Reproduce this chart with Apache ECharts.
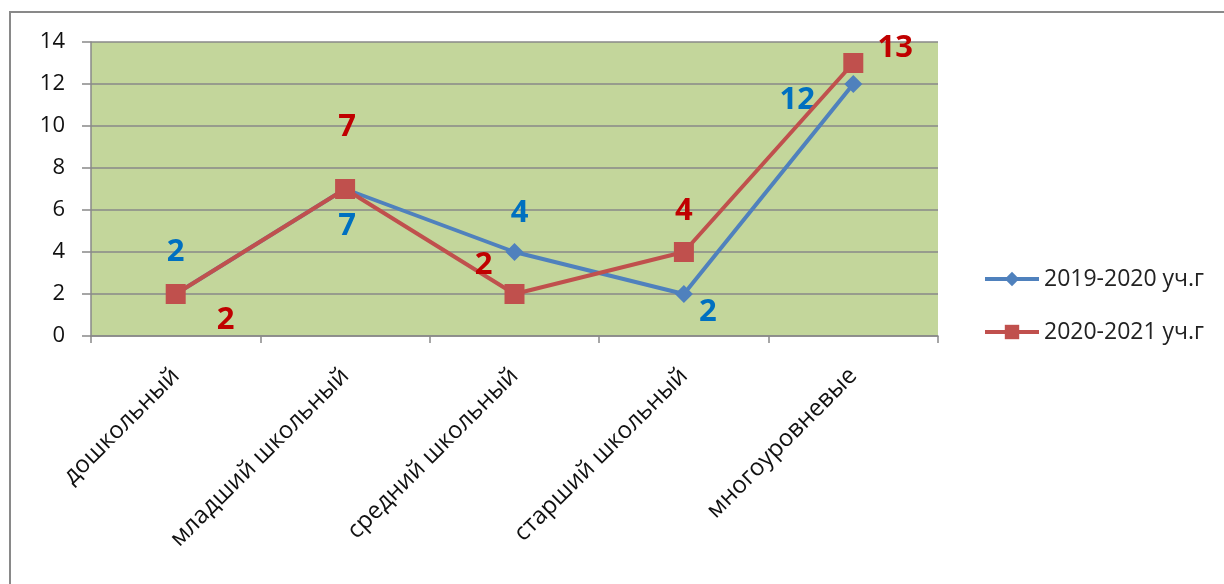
<!DOCTYPE html>
<html>
<head>
<meta charset="utf-8">
<script src="https://cdn.jsdelivr.net/npm/echarts@6/dist/echarts.min.js"></script>
<style>
html,body{margin:0;padding:0;background:#fff;}
#frame{position:absolute;left:9px;top:11px;width:1230px;height:600px;border:2px solid #898989;box-sizing:border-box;}
#chart{position:absolute;left:0;top:0;width:1224px;height:584px;}
</style>
</head>
<body>
<div id="frame"></div>
<div id="chart"></div>
<script>
const categories = ['дошкольный', 'младший школьный', 'средний школьный', 'старший школьный', 'многоуровневые'];
const seriesNames = ['2019-2020 уч.г', '2020-2021 уч.г'];
const values2019 = [2, 7, 4, 2, 12];
const values2020 = [2, 7, 2, 4, 13];
const yTicks = [0, 2, 4, 6, 8, 10, 12, 14];

const FONT = '"Open Sans", "DejaVu Sans", sans-serif';
const blueOffsets = [[0, -42], [2, 37], [5, -39], [24, 18], [-56, 16]];
const redOffsets = [[50, 26], [2, -62], [-31, -29], [0, -41], [42, -15]];

function mk(vals, offs) {
  return vals.map((v, i) => ({
    value: v,
    label: { offset: offs[i] }
  }));
}

const chart = echarts.init(document.getElementById('chart'), null, { renderer: 'canvas' });
chart.setOption({
  animation: false,
  backgroundColor: 'transparent',
  grid: { left: 91, right: 286, top: 42, bottom: 248, show: true, backgroundColor: '#C3D69B', borderWidth: 0 },
  legend: {
    orient: 'vertical',
    left: 978,
    top: 260,
    itemWidth: 54,
    itemHeight: 18,
    itemGap: 25,
    lineStyle: { width: 4 },
    textStyle: { fontFamily: FONT, fontSize: 23, color: '#222', lineHeight: 28 },
    data: seriesNames
  },
  xAxis: {
    type: 'category',
    data: categories,
    boundaryGap: true,
    axisLine: { lineStyle: { color: '#898989', width: 1.5 } },
    axisTick: { show: true, length: 7, lineStyle: { color: '#898989', width: 1.5 } },
    axisLabel: { rotate: 45, margin: 36, fontFamily: FONT, fontSize: 24, color: '#111', interval: 0 },
    splitLine: { show: false }
  },
  yAxis: {
    type: 'value',
    min: 0, max: 14, interval: 2,
    axisLine: { show: true, lineStyle: { color: '#898989', width: 1.5 } },
    axisTick: { show: true, inside: false, length: 9, lineStyle: { color: '#898989', width: 1.5 } },
    axisLabel: { margin: 26, fontFamily: FONT, fontSize: 22, color: '#111',
      formatter: v => yTicks.includes(v) ? String(v) : '' },
    splitLine: { show: true, lineStyle: { color: '#898989', width: 1.5 } }
  },
  series: [
    {
      name: seriesNames[0], type: 'line', data: mk(values2019, blueOffsets),
      symbol: 'diamond', symbolSize: 18,
      itemStyle: { color: '#4F81BD' },
      lineStyle: { color: '#4F81BD', width: 4 },
      label: { show: true, position: 'inside', color: '#0070C0', fontFamily: FONT, fontSize: 31, fontWeight: 'bold' },
      z: 3
    },
    {
      name: seriesNames[1], type: 'line', data: mk(values2020, redOffsets),
      symbol: 'rect', symbolSize: 20,
      itemStyle: { color: '#C0504D' },
      lineStyle: { color: '#C0504D', width: 4 },
      label: { show: true, position: 'inside', color: '#C00000', fontFamily: FONT, fontSize: 31, fontWeight: 'bold' },
      z: 4
    }
  ]
});
</script>
</body>
</html>
